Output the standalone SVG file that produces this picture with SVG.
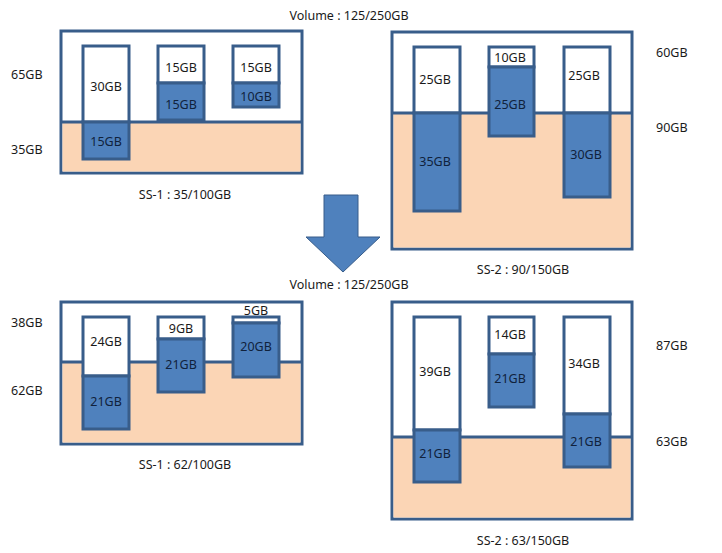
<svg xmlns="http://www.w3.org/2000/svg" width="722" height="553" viewBox="0 0 722 553">
<style>
text{font-family:"Noto Sans","Liberation Sans",sans-serif;font-size:12.5px;fill:#1a1a1a;dominant-baseline:central}
.c{text-anchor:middle}
.box{fill:#fff;stroke:#385d8a;stroke-width:3}
.peach{fill:#fbd5b5;stroke:none}
.div{stroke:#385d8a;stroke-width:3}
.w{fill:#fff;stroke:#385d8a;stroke-width:3}
.b{fill:#4f81bd;stroke:#385d8a;stroke-width:3}
.tb{fill:#10223c}
</style>
<rect width="722" height="553" fill="#fff"/>
<text class="c" x="349" y="15">Volume : 125/250GB</text>
<text class="c" x="349" y="284">Volume : 125/250GB</text>

<g id="ss1-before">
<rect class="box" x="61" y="31" width="241" height="142"/>
<rect class="peach" x="62.5" y="122" width="238" height="49.5"/>
<line class="div" x1="61" y1="122" x2="302" y2="122"/>
<g id="ss1b-c1"><rect class="w" x="83" y="46" width="46" height="76"/><rect class="b" x="83" y="122" width="46" height="37"/>
<text class="c" x="106" y="86">30GB</text><text class="c tb" x="106" y="141">15GB</text></g>
<g id="ss1b-c2"><rect class="w" x="158" y="46" width="46" height="37"/><rect class="b" x="158" y="83" width="46" height="37"/>
<text class="c" x="181" y="67">15GB</text><text class="c tb" x="181" y="104">15GB</text></g>
<g id="ss1b-c3"><rect class="w" x="233" y="46" width="46" height="37"/><rect class="b" x="233" y="83" width="46" height="24"/>
<text class="c" x="256" y="67">15GB</text><text class="c tb" x="256" y="96">10GB</text></g>
<text x="11" y="74">65GB</text>
<text x="11" y="149">35GB</text>
<text class="c" x="185" y="194">SS-1 : 35/100GB</text>
</g>

<g id="ss2-before">
<rect class="box" x="392" y="32" width="240" height="217"/>
<rect class="peach" x="393.5" y="113" width="237" height="134.5"/>
<line class="div" x1="392" y1="113" x2="632" y2="113"/>
<g id="ss2b-c1"><rect class="w" x="414" y="47" width="46" height="66"/><rect class="b" x="414" y="113" width="46" height="98"/>
<text class="c" x="435" y="79">25GB</text><text class="c tb" x="435" y="161">35GB</text></g>
<g id="ss2b-c2"><rect class="w" x="489" y="47" width="45" height="20"/><rect class="b" x="489" y="67" width="45" height="69"/>
<text class="c" x="510" y="57">10GB</text><text class="c tb" x="510" y="104">25GB</text></g>
<g id="ss2b-c3"><rect class="w" x="564" y="47" width="46" height="66"/><rect class="b" x="564" y="113" width="46" height="84"/>
<text class="c" x="584" y="75">25GB</text><text class="c tb" x="586" y="154">30GB</text></g>
<text x="656" y="52">60GB</text>
<text x="656" y="127">90GB</text>
<text class="c" x="523" y="269">SS-2 : 90/150GB</text>
</g>

<g id="connectors">
<path d="M324,195 H358 V237 H380 L343,272 L306,237 H324 Z" fill="#4f81bd" stroke="#385d8a" stroke-width="1"/>
</g>

<g id="ss1-after">
<rect class="box" x="61" y="302" width="241" height="142"/>
<rect class="peach" x="62.5" y="362" width="238" height="80.5"/>
<line class="div" x1="61" y1="362" x2="302" y2="362"/>
<g id="ss1a-c1"><rect class="w" x="83" y="317" width="46" height="59"/><rect class="b" x="83" y="376" width="46" height="53"/>
<text class="c" x="106" y="341">24GB</text><text class="c tb" x="106" y="401">21GB</text></g>
<g id="ss1a-c2"><rect class="w" x="158" y="317" width="46" height="22"/><rect class="b" x="158" y="339" width="46" height="53"/>
<text class="c" x="181" y="328">9GB</text><text class="c tb" x="181" y="364">21GB</text></g>
<g id="ss1a-c3"><rect class="w" x="233" y="317" width="46" height="6"/><rect class="b" x="233" y="323" width="46" height="54"/>
<text class="c" x="256" y="310">5GB</text><text class="c tb" x="256" y="346">20GB</text></g>
<text x="11" y="322">38GB</text>
<text x="11" y="390">62GB</text>
<text class="c" x="185" y="464">SS-1 : 62/100GB</text>
</g>

<g id="ss2-after">
<rect class="box" x="392" y="302" width="240" height="217"/>
<rect class="peach" x="393.5" y="437" width="237" height="80.5"/>
<line class="div" x1="392" y1="437" x2="632" y2="437"/>
<g id="ss2a-c1"><rect class="w" x="414" y="317" width="46" height="113"/><rect class="b" x="414" y="430" width="46" height="52"/>
<text class="c" x="435" y="371">39GB</text><text class="c tb" x="435" y="453">21GB</text></g>
<g id="ss2a-c2"><rect class="w" x="489" y="317" width="45" height="37"/><rect class="b" x="489" y="354" width="45" height="53"/>
<text class="c" x="510" y="334">14GB</text><text class="c tb" x="510" y="378">21GB</text></g>
<g id="ss2a-c3"><rect class="w" x="564" y="317" width="46" height="97"/><rect class="b" x="564" y="414" width="46" height="53"/>
<text class="c" x="584" y="363">34GB</text><text class="c tb" x="586" y="441">21GB</text></g>
<text x="656" y="345">87GB</text>
<text x="656" y="441">63GB</text>
<text class="c" x="523" y="540">SS-2 : 63/150GB</text>
</g>
</svg>
